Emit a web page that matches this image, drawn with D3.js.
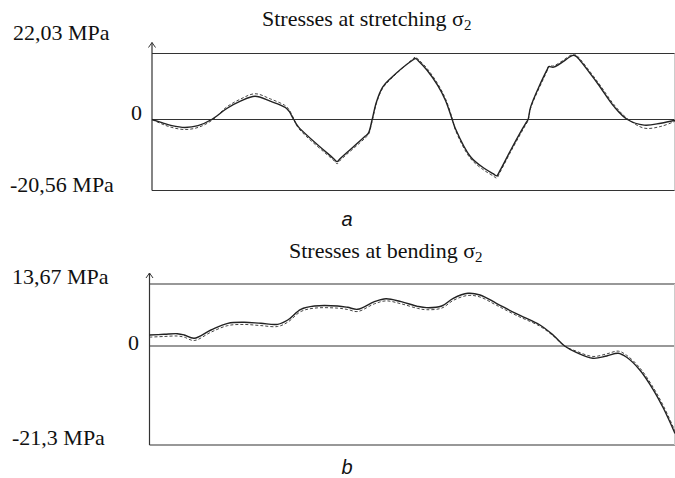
<!DOCTYPE html>
<html>
<head>
<meta charset="utf-8">
<script src="https://cdn.jsdelivr.net/npm/d3@7"></script>
<style>
  body { margin: 0; background: #fff; }
  svg { display: block; }
</style>
</head>
<body>
<div id="chart"></div>
<script>
// panel a: stresses at stretching (position along the part, 0..1 -> MPa)
const stretchPos = [0, 0.019, 0.038, 0.063, 0.088, 0.114, 0.143, 0.169, 0.197, 0.226, 0.255, 0.262, 0.271,
  0.280, 0.347, 0.354, 0.360, 0.408, 0.414, 0.421, 0.429, 0.441, 0.456, 0.498, 0.504, 0.510, 0.526,
  0.546, 0.561, 0.574, 0.580, 0.609, 0.635, 0.653, 0.659, 0.665, 0.686, 0.709, 0.715, 0.719, 0.724,
  0.755, 0.759, 0.768, 0.803, 0.807, 0.812, 0.852, 0.884, 0.909, 0.941, 0.973, 1.0]
const stretchSolid = [0, -0.92, -1.79, -2.30, -1.79, 0, 3.67, 6.11, 7.78, 6.11, 4.01, 2.77, 0,
  -2.13, -11.29, -12.21, -11.29, -4.81, -3.86, 0, 5.77, 10.78, 13.69, 19.79, 20.36, 19.46, 16.46,
  11.45, 6.44, 0, -2.59, -10.77, -14.11, -15.75, -16.33, -14.89, -8.84, -2.51, -0.98, 0, 4.21,
  16.46, 17.62, 17.46, 21.30, 21.46, 20.96, 12.02, 4.21, 0, -1.64, -1.07, -0.20]
const stretchDashed = [0, -1.3, -2.3, -2.9, -2.3, -0.3, 4.2, 6.8, 8.6, 6.9, 4.6, 3.3, 0.3,
  -2.5, -11.8, -12.8, -11.8, -5.3, -4.3, -0.4, 5.4, 10.4, 13.4, 20.1, 20.85, 19.95, 17.0,
  12.0, 7.0, 0.4, -3.0, -11.3, -14.7, -16.4, -16.95, -15.4, -9.3, -3.0, -1.4, -0.35, 3.8,
  16.1, 17.9, 17.9, 21.7, 21.9, 21.4, 12.6, 4.8, 0.3, -2.5, -2.0, -0.5]
const stretchTicks = ["22,03 MPa", "0", "-20,56 MPa"]
const stretchMax = 22.03
const stretchMin = -20.56

// panel b: stresses at bending
const bendPos = [0, 0.028, 0.053, 0.066, 0.085, 0.117, 0.149, 0.180, 0.212, 0.244, 0.263, 0.288, 0.314,
  0.358, 0.377, 0.396, 0.428, 0.450, 0.479, 0.510, 0.527, 0.556, 0.578, 0.606, 0.629, 0.660, 0.699, 0.743,
  0.768, 0.790, 0.813, 0.844, 0.870, 0.892, 0.908, 0.933, 0.959, 0.978, 1.0]
const bendSolid = [2.43, 2.58, 2.71, 2.43, 1.70, 3.53, 5.0, 5.23, 5.0, 4.78, 5.73, 8.09, 8.82,
  8.82, 8.53, 8.09, 9.77, 10.43, 9.77, 8.75, 8.45, 8.82, 10.52, 11.62, 11.25, 9.42, 7.06, 4.63,
  2.43, 0, -1.44, -2.65, -2.15, -1.57, -2.43, -5.16, -9.47, -13.4, -18.8]
const bendDashed = [1.95, 2.1, 2.2, 1.95, 1.2, 3.05, 4.5, 4.75, 4.5, 4.3, 5.25, 7.6, 8.35,
  8.35, 8.05, 7.6, 9.3, 9.95, 9.3, 8.3, 8.0, 8.35, 10.05, 11.15, 10.8, 9.0, 6.7, 4.35,
  2.25, 0, -1.15, -2.25, -1.7, -1.1, -2.0, -4.7, -9.0, -12.9, -18.3]
const bendTicks = ["13,67 MPa", "0", "-21,3 MPa"]
const bendMax = 13.67
const bendMin = -21.3

const width = 675
const height = 478

const svg = d3.select("#chart").append("svg")
  .attr("width", width)
  .attr("height", height)

const serif = "'Liberation Serif', 'Times New Roman', serif"
const sans = "'Liberation Sans', Arial, sans-serif"

const drawPanel = (cfg) => {
  const g = svg.append("g").attr("class", cfg.cls)

  const x = d3.scaleLinear().domain([0, 1]).range([cfg.left, width])
  // zero line is not centered between the two extremes, so use a 3-stop scale
  const y = d3.scaleLinear()
    .domain([cfg.min, 0, cfg.max])
    .range([cfg.bottom, cfg.zero, cfg.top])

  // frame lines: max, zero, min
  g.selectAll("line.h")
    .data([cfg.max, 0, cfg.min])
    .enter()
    .append("line")
    .attr("class", "h")
    .attr("x1", x(0)).attr("x2", x(1))
    .attr("y1", d => y(d)).attr("y2", d => y(d))
    .attr("stroke", "#333")
    .attr("stroke-width", 1.2)

  // faint right border
  g.append("line")
    .attr("x1", width - 0.5).attr("x2", width - 0.5)
    .attr("y1", y(cfg.max)).attr("y2", y(cfg.min))
    .attr("stroke", "#ccc")

  // y axis with arrow
  const axTop = y(cfg.max) - 11
  g.append("line")
    .attr("x1", x(0)).attr("x2", x(0))
    .attr("y1", axTop).attr("y2", y(cfg.min))
    .attr("stroke", "#333")
    .attr("stroke-width", 1.2)
  g.append("path")
    .attr("d", `M${x(0) - 3.5},${axTop + 5}L${x(0)},${axTop}L${x(0) + 3.5},${axTop + 5}`)
    .attr("fill", "none")
    .attr("stroke", "#333")
    .attr("stroke-width", 1)

  // value labels
  g.selectAll("text.tick")
    .data(cfg.ticks)
    .enter()
    .append("text")
    .attr("class", "tick")
    .attr("x", (d, i) => i === 1 ? cfg.zeroX : cfg.labelX[i])
    .attr("y", (d, i) => cfg.labelY[i])
    .style("font-family", serif)
    .style("font-size", "22px")
    .attr("fill", "#111")
    .text(d => d)

  // title
  const title = g.append("text")
    .attr("x", cfg.titleX)
    .attr("y", cfg.titleY)
    .style("font-family", serif)
    .style("font-size", "22px")
    .attr("fill", "#111")
    .text(cfg.title + " σ")
  title.append("tspan")
    .attr("dy", 4)
    .style("font-size", "15px")
    .text("2")

  // curves
  const line = d3.line()
    .x(d => x(d[0]))
    .y(d => y(d[1]))
    .curve(d3.curveCatmullRom.alpha(0.5))

  g.append("path")
    .datum(d3.zip(cfg.pos, cfg.dashed))
    .attr("d", line)
    .attr("fill", "none")
    .attr("stroke", "#444")
    .attr("stroke-width", 1)
    .attr("stroke-dasharray", "3,2")

  g.append("path")
    .datum(d3.zip(cfg.pos, cfg.solid))
    .attr("d", line)
    .attr("fill", "none")
    .attr("stroke", "#222")
    .attr("stroke-width", 1.4)

  // panel letter
  g.append("text")
    .attr("x", 347)
    .attr("y", cfg.letterY)
    .style("font-family", sans)
    .style("font-style", "italic")
    .style("font-size", "20px")
    .style("text-anchor", "middle")
    .attr("fill", "#111")
    .text(cfg.letter)
}

drawPanel({
  cls: "stretching",
  pos: stretchPos, solid: stretchSolid, dashed: stretchDashed,
  ticks: stretchTicks, max: stretchMax, min: stretchMin,
  left: 152, top: 53.5, zero: 119.5, bottom: 190.5,
  labelX: [13, 0, 10], zeroX: 131, labelY: [40, 120, 192],
  title: "Stresses at stretching", titleX: 262, titleY: 26,
  letter: "a", letterY: 226,
})

drawPanel({
  cls: "bending",
  pos: bendPos, solid: bendSolid, dashed: bendDashed,
  ticks: bendTicks, max: bendMax, min: bendMin,
  left: 149.5, top: 284, zero: 346, bottom: 445,
  labelX: [12, 0, 12], zeroX: 128, labelY: [284, 350, 445],
  title: "Stresses at bending", titleX: 289, titleY: 258,
  letter: "b", letterY: 474,
})
</script>
</body>
</html>
